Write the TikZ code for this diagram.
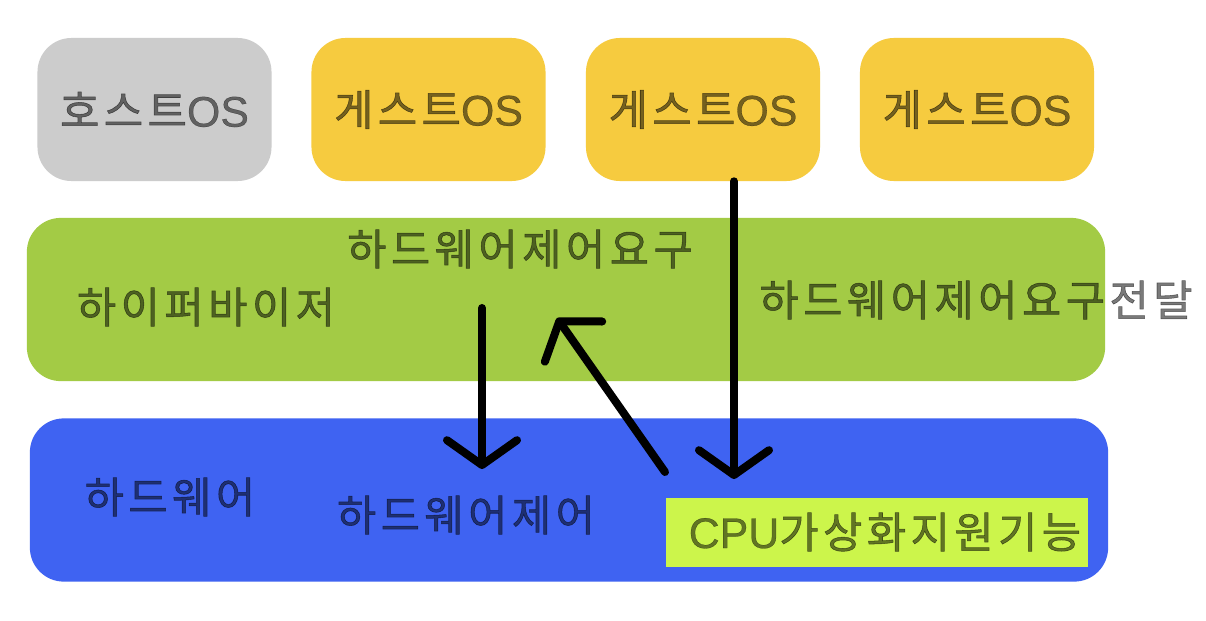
\documentclass[tikz,border=0pt]{standalone}
\usepackage{fontspec}
\setmainfont{Noto Sans CJK KR}[LetterSpace=10, FakeBold=1.2]
\newfontfamily\latinfont{Liberation Sans}[FakeBold=0.6]
\usetikzlibrary{arrows.meta}
\definecolor{hostgray}{HTML}{CCCCCC}
\definecolor{guestyellow}{HTML}{F6CB3F}
\definecolor{hypergreen}{HTML}{A3CB45}
\definecolor{hwblue}{HTML}{3F63F2}
\definecolor{cpulime}{HTML}{CCF54B}
\newcommand{\lat}[1]{{\latinfont #1}}
\begin{document}
\begin{tikzpicture}[x=0.025cm, y=-0.025cm, font=\fontsize{30.5}{33}\selectfont,
  osbox/.style={rounded corners=0.85cm, minimum width=5.85cm, minimum height=3.575cm, inner sep=0pt},
  band/.style={rounded corners=0.85cm, minimum width=26.95cm, minimum height=4.08cm, inner sep=0pt},
  lbl/.style={text=black, text opacity=0.52, inner sep=0pt},
  req/.style={line width=5.7pt, line cap=round, -{Straight Barb[length=0.62cm, width=1.75cm, round]}},
  ]
  %%% white page with reference margins %%%
  \fill[white] (0,0) rectangle (1206,620);
  \useasboundingbox (0,0) rectangle (1206,620);

  %%% operating systems %%%
  \node[osbox, fill=hostgray]    (host)   at (154.5,109.5) {};
  \node[osbox, fill=guestyellow] (guestA) at (428.5,109.5) {};
  \node[osbox, fill=guestyellow] (guestB) at (703,109.5)   {};
  \node[osbox, fill=guestyellow] (guestC) at (977,109.5)   {};
  \node[lbl] (hostlbl)   at (host)   {호스트\lat{OS}};
  \node[lbl] (guestAlbl) at (guestA) {게스트\lat{OS}};
  \node[lbl] (guestBlbl) at (guestB) {게스트\lat{OS}};
  \node[lbl] (guestClbl) at (guestC) {게스트\lat{OS}};

  %%% hypervisor layer %%%
  \node[band, fill=hypergreen] (hyper) at (566,299.5) {};
  \node[lbl] (hyperlbl) at (206,307) {하이퍼바이저};
  \node[lbl] (reqlbl)   at (520,249) {하드웨어제어요구};
  \node[lbl] (passlbl)  at (976,300) {하드웨어제어요구전달};

  %%% hardware layer %%%
  \node[band, fill=hwblue] (hw) at (569,500) {};
  \node[fill=cpulime, minimum width=10.55cm, minimum height=1.725cm, inner sep=0pt] (cpu) at (877,532.5) {};
  \node[lbl] (hwlbl)   at (170,497) {하드웨어};
  \node[lbl] (ctrllbl) at (466,515) {하드웨어제어};
  \node[lbl] (cpulbl)  at (885,532) {\lat{CPU}가상화지원기능};

  %%% arrow end points %%%
  \coordinate (downtop) at (482,308);
  \coordinate (downend) at (482,469);
  \coordinate (traptail) at (665,472);
  \coordinate (traptip)  at (557,318);
  \coordinate (guesttop) at (guestB.south -| 734,0);
  \coordinate (guestend) at (734,479);

  %%% control requests %%%
  \draw[req] (downtop) -- (downend);
  \draw[req] (traptail) -- (traptip);
  \draw[req] (guesttop) -- (guestend);
\end{tikzpicture}
\end{document}
